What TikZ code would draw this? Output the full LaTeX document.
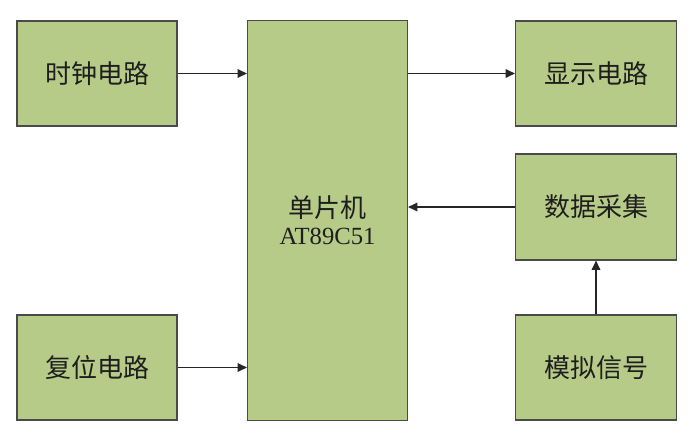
\documentclass[tikz,border=0pt]{standalone}
\usepackage{fontspec}
\setmainfont{Liberation Serif}
\newfontfamily\cjk{Noto Sans CJK SC}
\usetikzlibrary{arrows.meta}
\definecolor{boxfill}{HTML}{B7CB88}
\definecolor{boxline}{HTML}{4A4A4A}
\definecolor{txt}{HTML}{1E1E1E}
\begin{document}
\begin{tikzpicture}[x=0.75pt,y=-0.75pt,
  blk/.style={draw=boxline,fill=boxfill,line width=0.9pt,text=txt,font=\cjk\fontsize{19.5}{23}\selectfont},
  conn/.style={draw=black!85,line width=0.8pt,-{Triangle[length=7pt,width=6.5pt]}}]
\useasboundingbox (0,0) rectangle (692,435);
\node[blk,minimum width=160*0.75pt,minimum height=105*0.75pt] (clk) at (97,73.5) {时钟电路};
\node[blk,minimum width=160*0.75pt,minimum height=105*0.75pt] (rst) at (97,367.5) {复位电路};
\node[blk,minimum width=160*0.75pt,minimum height=400*0.75pt,align=center] (mcu) at (327.5,220.5) {单片机\\[-3pt]{\rmfamily\fontsize{18.5}{22}\selectfont AT89C51}};
\node[blk,minimum width=161*0.75pt,minimum height=105*0.75pt] (disp) at (596,73.5) {显示电路};
\node[blk,minimum width=161*0.75pt,minimum height=106*0.75pt] (acq) at (596,207) {数据采集};
\node[blk,minimum width=161*0.75pt,minimum height=105*0.75pt] (sig) at (596,367.5) {模拟信号};
\draw[conn] (clk.east) -- (clk.east -| mcu.west);
\draw[conn] (rst.east) -- (rst.east -| mcu.west);
\draw[conn] (mcu.east |- disp.west) -- (disp.west);
\draw[conn] (acq.west) -- (acq.west -| mcu.east);
\draw[conn] (sig.north) -- (acq.south);
\end{tikzpicture}
\end{document}
